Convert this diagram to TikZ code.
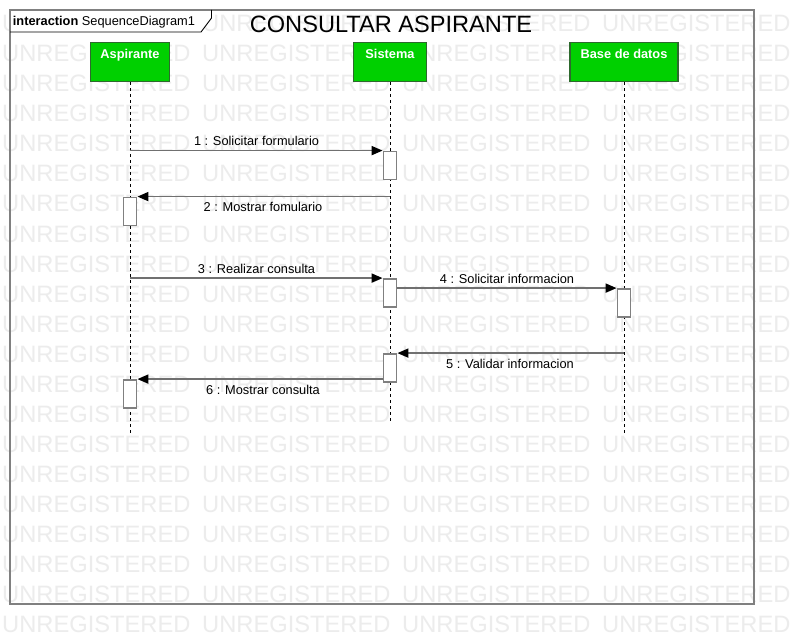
\documentclass[tikz,border=0pt]{standalone}
\usepackage{fontspec}
\setmainfont{Liberation Sans}
\usetikzlibrary{arrows.meta}
\definecolor{wmgray}{RGB}{236,236,236}
\definecolor{framegray}{RGB}{128,128,128}
\definecolor{msggray}{RGB}{112,112,112}
\definecolor{headgreen}{RGB}{0,208,0}
\definecolor{headborder}{RGB}{45,105,45}
\tikzset{
  wm/.style={anchor=base west, inner sep=0pt, text=wmgray, font=\fontsize{23.7}{28}\selectfont},
  head/.style={draw=headborder, fill=headgreen, line width=1.4pt, minimum height=39pt, inner sep=0pt, anchor=north},
  headtxt/.style={anchor=base, inner sep=0pt, text=white, font=\fontsize{12.8}{15}\selectfont\bfseries},
  lifeline/.style={draw=black, line width=0.8pt, dash pattern=on 3pt off 3pt},
  act/.style={draw=framegray, fill=white, line width=1.8pt, minimum width=13pt, minimum height=28pt, inner sep=0pt},
  msg/.style={draw=msggray, line width=1.8pt, -{Triangle[length=11pt,width=9pt,color=black]}},
  msglbl/.style={anchor=base, inner sep=0pt, text=black, font=\fontsize{12.8}{15}\selectfont},
}
\begin{document}
\begin{tikzpicture}[x=1pt,y=-1pt]
\useasboundingbox (0,0) rectangle (794,644);
\fill[white] (0,0) rectangle (794,644);
% watermark
\foreach \r in {0,...,20} {
  \foreach \c in {0,...,3} {
    \node[wm] (wm-\r-\c) at ({2+200*\c},{32+30*\r}) {UNREGISTERED};
  }
}
% tab fill
\fill[white] (10,10) -- (211.5,10) -- (211.5,18) -- (201,32) -- (10,32) -- cycle;
% frame
\draw[framegray, line width=2pt] (10,10) rectangle (754,604);
% tab edges
\draw[black, line width=0.9pt] (211.5,10) -- (211.5,18) -- (201,32) -- (10,32);
\node[anchor=base west, inner sep=0pt, font=\fontsize{12.8}{15}\selectfont] (tabtxt) at (12.7,26) {\textbf{interaction} SequenceDiagram1};
% title
\node[anchor=base, inner sep=0pt, font=\fontsize{23.6}{28}\selectfont] (title) at (391,33) {CONSULTAR ASPIRANTE};
% heads
\node[head, minimum width=79pt] (asp) at (130,42) {};
\node[head, minimum width=73pt] (sis) at (390,42) {};
\node[head, minimum width=108pt] (bd) at (624,42) {};
\node[headtxt] (asptxt) at (130,59) {Aspirante};
\node[headtxt] (sistxt) at (390,59) {Sistema};
\node[headtxt] (bdtxt) at (624,59) {Base de datos};
% lifeline ends
\coordinate (aspend) at (130,433);
\coordinate (sisend) at (390,421);
\coordinate (bdend) at (624,433);
\draw[lifeline] (asp.south) -- (aspend);
\draw[lifeline] (sis.south) -- (sisend);
\draw[lifeline] (bd.south) -- (bdend);
% activations
\node[act] (a1) at (390,165.5) {};
\node[act] (a2) at (130,211.5) {};
\node[act] (a3) at (390,293) {};
\node[act] (a4) at (624,303) {};
\node[act] (a5) at (390,368) {};
\node[act] (a6) at (130,394) {};
% messages
\draw[msg] (asp.south |- a1.north) -- (a1.north west);
\draw[msg] (sis.south |- a2.north) -- (a2.north east);
\draw[msg] (asp.south |- a3.north) -- (a3.north west);
\draw[msg] (a3.east |- a4.north) -- (a4.north west);
\draw[msg] (bd.south |- a5.north) -- (a5.north east);
\draw[msg] (a5.west |- a6.north) -- (a6.north east);
% labels
\node[msglbl] (l1) at (256.5,146) {1 : Solicitar formulario};
\node[msglbl] (l2) at (263,212) {2 : Mostrar fomulario};
\node[msglbl] (l3) at (256.5,273) {3 : Realizar consulta};
\node[msglbl] (l4) at (507,283) {4 : Solicitar informacion};
\node[msglbl] (l5) at (510,368) {5 : Validar informacion};
\node[msglbl] (l6) at (263,394) {6 : Mostrar consulta};
\end{tikzpicture}
\end{document}
